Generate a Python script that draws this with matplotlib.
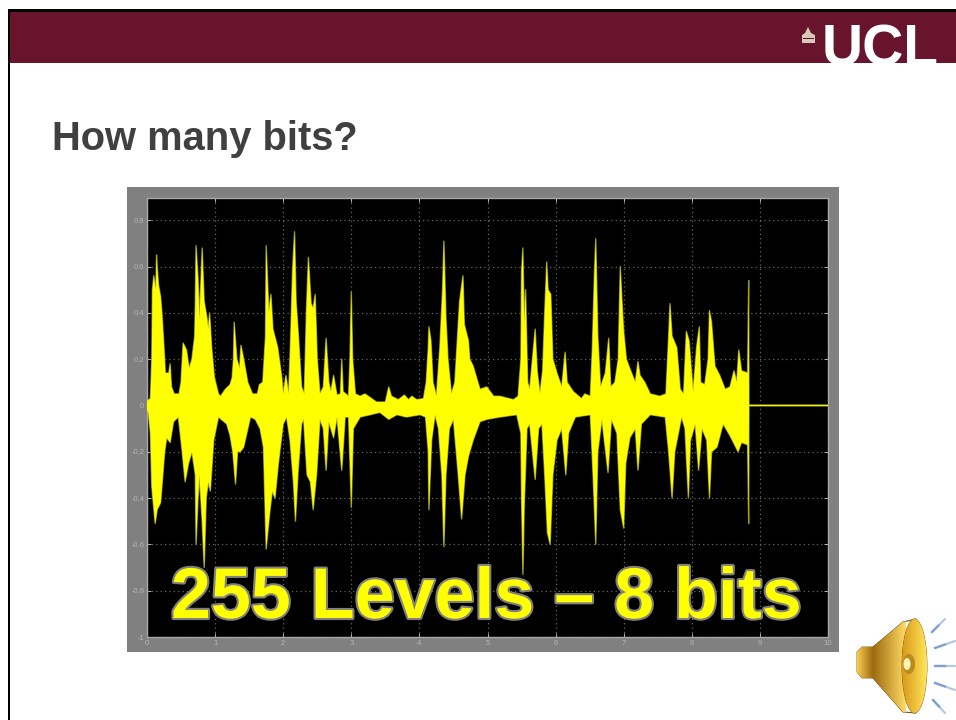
import matplotlib
matplotlib.use("Agg")
import matplotlib.pyplot as plt
import matplotlib.patheffects as pe
from matplotlib.patches import Rectangle, Polygon, Ellipse
import numpy as np

upper_x = [0,.05,.07,.08,.1,.13,.14,.15,.17,.2,.22,.25,.27,.32,.34,.36,.4,.47,.5,.53,.58,.62,.66,.7,.71,.72,.75,.77,.81,.84,.88,.9,.92,.95,.99,1.05,1.08,1.15,1.22,1.25,1.27,1.28,1.32,1.36,1.38,1.42,1.48,1.55,1.62,1.65,1.7,1.74,1.75,1.79,1.82,1.85,1.92,1.98,2.0,2.04,2.08,2.11,2.137,2.167,2.19,2.22,2.27,2.31,2.34,2.37,2.41,2.44,2.47,2.5,2.54,2.59,2.63,2.67,2.7,2.74,2.79,2.84,2.86,2.88,2.96,2.98,3.0,3.02,3.06,3.13,3.2,3.25,3.37,3.5,3.55,3.59,3.69,3.78,3.84,3.89,3.96,4.06,4.1,4.13,4.14,4.17,4.2,4.25,4.3,4.34,4.36,4.39,4.42,4.47,4.52,4.59,4.64,4.66,4.72,4.74,4.79,4.89,4.99,5.09,5.18,5.38,5.45,5.49,5.5,5.52,5.54,5.56,5.59,5.62,5.66,5.7,5.73,5.77,5.81,5.84,5.87,5.89,5.93,5.96,6.02,6.09,6.14,6.17,6.26,6.38,6.43,6.51,6.54,6.57,6.59,6.62,6.66,6.73,6.78,6.81,6.87,6.92,6.95,6.97,7.0,7.04,7.09,7.17,7.21,7.24,7.31,7.39,7.53,7.62,7.66,7.68,7.71,7.78,7.83,7.88,7.92,7.96,8.02,8.07,8.11,8.13,8.19,8.24,8.26,8.29,8.34,8.41,8.49,8.56,8.62,8.66,8.69,8.73,8.82,8.835,8.84,10]
upper_y = [.02,.03,.2,.5,.56,.5,.65,.6,.52,.47,.4,.25,.14,.14,.18,.08,.05,.05,.1,.27,.24,.16,.2,.3,.45,.69,.55,.37,.68,.45,.38,.33,.4,.25,.12,.05,.04,.07,.09,.12,.2,.36,.2,.16,.26,.2,.1,.05,.05,.09,.1,.3,.69,.4,.48,.33,.25,.12,.05,.13,.05,.3,.58,.75,.45,.32,.08,.05,.4,.64,.44,.42,.48,.2,.05,.08,.29,.1,.06,.13,.045,.05,.2,.06,.04,.2,.49,.2,.05,.04,.05,.04,.015,.015,.08,.04,.025,.045,.025,.04,.025,.03,.1,.25,.34,.28,.1,.04,.25,.5,.71,.38,.2,.05,.1,.45,.56,.35,.28,.2,.17,.07,.08,.04,.04,.025,.04,.2,.58,.68,.35,.5,.1,.07,.2,.33,.15,.05,.15,.4,.62,.5,.48,.2,.14,.08,.23,.1,.06,.03,.05,.04,.25,.57,.72,.3,.08,.14,.29,.08,.1,.2,.6,.48,.32,.2,.16,.1,.19,.13,.1,.05,.04,.05,.3,.44,.3,.25,.07,.05,.32,.28,.06,.25,.34,.1,.09,.2,.41,.36,.17,.13,.07,.08,.15,.1,.24,.15,.14,.54,.002,.002]

lower_x = [0,.02,.05,.07,.12,.15,.2,.22,.26,.29,.34,.39,.46,.51,.56,.61,.66,.71,.72,.75,.77,.81,.84,.87,.9,.93,.98,1.05,1.17,1.22,1.26,1.3,1.33,1.37,1.42,1.52,1.59,1.66,1.71,1.75,1.8,1.84,1.88,1.93,2.0,2.05,2.1,2.15,2.18,2.22,2.27,2.3,2.35,2.4,2.44,2.49,2.54,2.59,2.63,2.67,2.74,2.79,2.86,2.91,2.96,3.0,3.03,3.13,3.28,3.42,3.55,3.67,3.81,4.01,4.09,4.13,4.14,4.18,4.23,4.28,4.33,4.36,4.39,4.44,4.5,4.57,4.62,4.67,4.72,4.79,4.89,4.99,5.18,5.43,5.49,5.5,5.52,5.54,5.58,5.62,5.7,5.75,5.8,5.84,5.88,5.92,5.96,6.02,6.09,6.15,6.19,6.29,6.51,6.55,6.59,6.62,6.68,6.77,6.82,6.9,6.95,7.0,7.03,7.09,7.17,7.21,7.26,7.39,7.61,7.66,7.71,7.75,7.85,7.9,7.95,7.98,8.05,8.1,8.15,8.22,8.26,8.29,8.37,8.46,8.56,8.68,8.73,8.82,8.835,8.84,10]
lower_y = [-.02,-.03,-.12,-.35,-.51,-.45,-.42,-.35,-.2,-.14,-.16,-.07,-.05,-.18,-.33,-.25,-.2,-.3,-.6,-.4,-.3,-.5,-.7,-.4,-.33,-.37,-.15,-.05,-.08,-.13,-.2,-.34,-.2,-.2,-.18,-.05,-.06,-.1,-.18,-.62,-.47,-.37,-.4,-.25,-.08,-.05,-.15,-.33,-.5,-.28,-.08,-.06,-.3,-.33,-.45,-.3,-.06,-.1,-.28,-.07,-.14,-.05,-.28,-.05,-.05,-.44,-.1,-.05,-.04,-.03,-.06,-.04,-.05,-.04,-.05,-.2,-.45,-.15,-.04,-.1,-.3,-.61,-.3,-.1,-.06,-.3,-.49,-.3,-.22,-.15,-.07,-.06,-.05,-.04,-.12,-.4,-.73,-.43,-.1,-.08,-.32,-.1,-.08,-.3,-.55,-.6,-.3,-.15,-.1,-.3,-.12,-.05,-.04,-.3,-.6,-.2,-.06,-.29,-.06,-.12,-.45,-.53,-.25,-.14,-.1,-.28,-.08,-.04,-.05,-.2,-.4,-.2,-.05,-.1,-.4,-.15,-.08,-.28,-.1,-.15,-.4,-.2,-.18,-.08,-.13,-.2,-.16,-.17,-.51,-.002,-.002]

x_ticks = [0,1,2,3,4,5,6,7,8,9,10]
y_ticks = [-1,-.8,-.6,-.4,-.2,0,.2,.4,.6,.8]
y_labels = ['-1','-0.8','-0.6','-0.4','-0.2','0','0.2','0.4','0.6','0.8']
title = "How many bits?"
caption = "255 Levels \u2013 8 bits"

W, H = 956, 720
plt.rcParams['font.family'] = ['Liberation Sans', 'DejaVu Sans']
fig = plt.figure(figsize=(W/100, H/100), dpi=100, facecolor='white')

bg = fig.add_axes([0, 0, 1, 1], zorder=0)
bg.set_xlim(0, W); bg.set_ylim(H, 0); bg.axis('off')
bg.add_patch(Rectangle((8, 9), W-8, 54, fc='#69142d', ec='none'))
bg.add_patch(Rectangle((8, 9), W-8, 3, fc='black', ec='none'))
bg.add_patch(Rectangle((8, 9), 2.5, H-9, fc='black', ec='none'))
bg.add_patch(Rectangle((127, 187), 712, 465, fc='#808080', ec='none'))
bg.text(52, 150, title, fontsize=28.7, fontweight='bold', color='#404040', va='baseline')

# UCL logo text, cut off by the lower edge of the band
band = Rectangle((8, 12), W-8, 51, transform=bg.transData)
t = bg.text(822, 66, "UCL", fontsize=41, fontweight='bold', color='white', va='baseline')
t.set_clip_path(band); t.set_clip_on(True)
bg.add_patch(Polygon([(802, 43), (802, 35), (805, 33), (808, 27), (811, 33), (815, 35), (815, 43)],
                     fc='#d9c9b8', ec='none'))
bg.add_patch(Rectangle((803, 38), 11, 1, fc='#69142d', ec='none'))

# speaker icon
def grad(patch, c0, c1, box):
    bg.add_patch(patch)
    g = np.linspace(0, 1, 64)[None, :, None]
    img = np.array(c0)[None, None, :]*(1-g) + np.array(c1)[None, None, :]*g
    im = bg.imshow(img, extent=[box[0], box[1], box[3], box[2]], aspect='auto', zorder=patch.get_zorder()+.01)
    im.set_clip_path(patch)
    return im

edge = '#7a5510'
grad(Polygon([(857, 652), (862, 647), (873, 647), (873, 678), (862, 678), (857, 672)], fc='none', ec=edge, lw=.6, zorder=3),
     (0.98, .8, .3), (.62, .42, .06), (857, 873, 640, 680))
grad(Polygon([(873, 647), (903, 622), (916, 619), (916, 713), (903, 712), (873, 678)], fc='none', ec=edge, lw=.8, zorder=3),
     (.62, .42, .06), (1.0, .86, .4), (873, 906, 615, 715))
grad(Ellipse((914.5, 666), 25, 94, fc='none', ec=edge, lw=.6, zorder=4), (.85, .6, .1), (1.0, .9, .35), (902, 927, 618, 713))
bg.add_patch(Ellipse((909, 664), 12, 20, fc='#b98a1e', ec='none', zorder=5))
bg.add_patch(Ellipse((907, 664), 7, 12, fc='#fff1b8', ec='none', zorder=6))
for xs, ys in [((932, 945), (632, 619)), ((935, 955), (648, 641)), ((935, 955), (666, 666)),
               ((935, 955), (683, 690)), ((933, 945), (700, 713))]:
    bg.plot(xs, ys, color='#b4c8e6', lw=1.6, solid_capstyle='round', zorder=3)
    bg.plot((xs[0], (xs[0]+xs[1])/2), (ys[0], (ys[0]+ys[1])/2), color='#7f9fd2', lw=1.6, zorder=3.1)

# waveform plot
ax = fig.add_axes([147/W, 1-637/H, (828-147)/W, (637-198)/H], zorder=1, facecolor='black')
ax.set_xlim(0, 10); ax.set_ylim(-1, 0.896)
xs = np.array(upper_x); ys = np.array(upper_y)
xl = np.array(lower_x); yl = np.array(lower_y)
ax.plot(xs, ys, color='#8f8f24', lw=1.0, zorder=2)
ax.plot(xl, yl, color='#8f8f24', lw=1.0, zorder=2)
ax.fill(np.r_[xs, xl[::-1]], np.r_[ys, yl[::-1]], color='#ffff00', lw=0, zorder=3)
ax.set_xticks(x_ticks); ax.set_yticks(y_ticks)
ax.set_xticklabels([str(v) for v in x_ticks]); ax.set_yticklabels(y_labels)
ax.grid(True, color='#666666', ls=(0, (1, 2.5)), lw=0.9, zorder=1)
ax.set_axisbelow(True)
ax.tick_params(colors='#b4b4b4', labelsize=5.5, length=3, width=.7, direction='in', pad=2,
               top=True, right=True)
for s in ax.spines.values():
    s.set_color('#a8a8a8'); s.set_linewidth(1)

ax.text((171-147)/(828-147), 1-(618-198)/(637-198), caption, transform=ax.transAxes,
        fontsize=51.7, fontweight='bold', color='#ffff00', va='baseline', zorder=6,
        path_effects=[pe.withStroke(linewidth=3, foreground='#808080')])

fig.savefig('out.png', dpi=100, facecolor='white')
